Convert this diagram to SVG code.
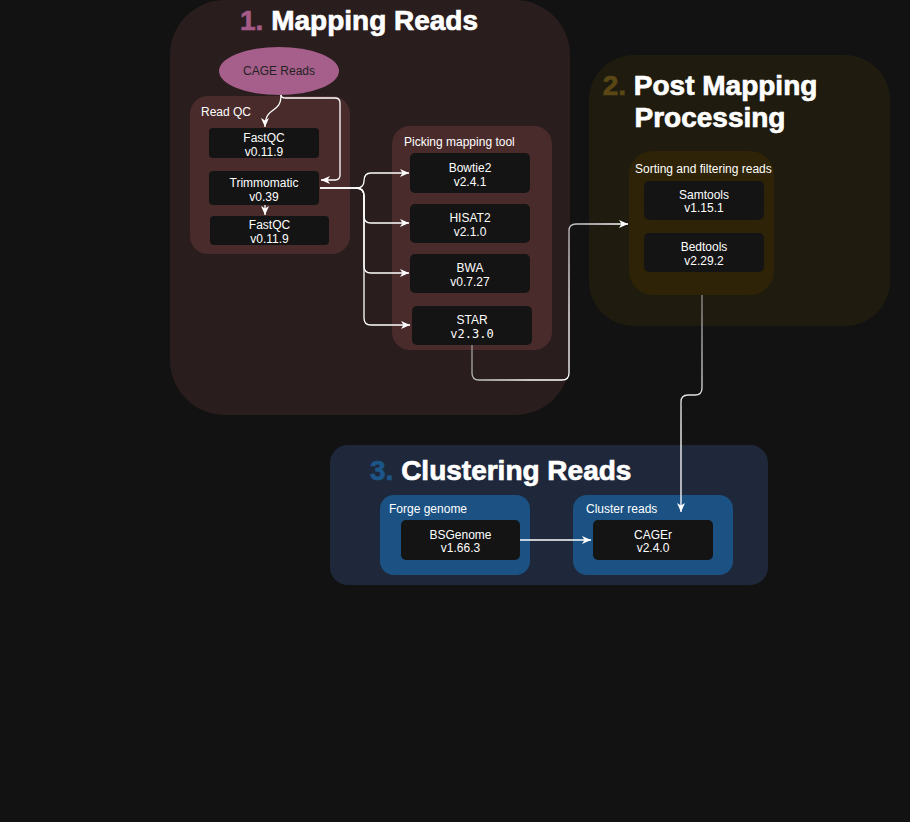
<svg xmlns="http://www.w3.org/2000/svg" width="910" height="822" viewBox="0 0 910 822">
<style>
.t{font-family:"Liberation Sans",Arial,sans-serif;font-size:12px;fill:#ffffff}
.c{text-anchor:middle}
.h{font-family:"Liberation Sans",Arial,sans-serif;font-size:28px;font-weight:bold;fill:#ffffff;stroke:#ffffff;stroke-width:0.7}
.n{fill:#141414}
.mono{font-family:"DejaVu Sans Mono","Liberation Mono",monospace;font-size:12px}
.ln{fill:none;stroke:#ffffff;stroke-width:1.3}
</style>
<defs>
<marker id="ah" markerUnits="userSpaceOnUse" markerWidth="10" markerHeight="10" refX="9" refY="5" orient="auto">
<path d="M0,1 L9,5 L0,9 L2.5,5 Z" fill="#ffffff"/>
</marker>
<linearGradient id="g1" gradientUnits="userSpaceOnUse" x1="472" y1="345" x2="530" y2="380">
<stop offset="0" stop-color="#9a9a9a"/><stop offset="1" stop-color="#ffffff"/>
</linearGradient>
<linearGradient id="g2" gradientUnits="userSpaceOnUse" x1="0" y1="295" x2="0" y2="430">
<stop offset="0" stop-color="#8a8a8a"/><stop offset="1" stop-color="#ffffff"/>
</linearGradient>
</defs>
<rect x="0" y="0" width="910" height="822" fill="#121212"/>

<g id="group-mapping">
<rect x="170" y="0" width="400" height="415" rx="55" fill="#2a1d1d"/>
<text class="h" x="240" y="30"><tspan style="fill:#a45b88;stroke:#a45b88">1.</tspan> Mapping Reads</text>
</g>
<g id="group-post">
<rect x="589" y="55" width="301" height="271" rx="45" fill="#1f1c0f"/>
<text class="h c" x="710" y="95"><tspan style="fill:#5b4714;stroke:#5b4714">2.</tspan> Post Mapping</text>
<text class="h c" x="710" y="127">Processing</text>
</g>
<g id="group-clustering">
<rect x="330" y="445" width="438" height="140" rx="18" fill="#1f283a"/>
<text class="h" x="370" y="480"><tspan style="fill:#1c5587;stroke:#1c5587">3.</tspan> Clustering Reads</text>
</g>

<g id="readqc">
<rect x="190" y="96" width="160" height="158" rx="18" fill="#4a2b2b"/>
<text class="t" x="201" y="116">Read QC</text>
</g>
<g id="picking">
<rect x="392" y="126" width="160" height="224" rx="18" fill="#4a2b2b"/>
<text class="t" x="404" y="146">Picking mapping tool</text>
</g>
<g id="sorting">
<rect x="629" y="151" width="145" height="144" rx="24" fill="#2e2306"/>
<text class="t" x="635" y="173">Sorting and filtering reads</text>
</g>
<g id="forge">
<rect x="380" y="495" width="150" height="80" rx="14" fill="#1b5283"/>
<text class="t" x="389" y="513">Forge genome</text>
</g>
<g id="cluster">
<rect x="573" y="495" width="160" height="80" rx="14" fill="#1b5283"/>
<text class="t" x="586" y="513">Cluster reads</text>
</g>

<g id="cage-reads">
<ellipse cx="279" cy="71" rx="60" ry="24" fill="#a65e8a"/>
<text class="t c" x="279" y="75" style="fill:#222222">CAGE Reads</text>
</g>
<g id="fastqc1">
<rect class="n" x="209" y="128" width="110" height="30" rx="4"/>
<text class="t c" x="264" y="142">FastQC</text>
<text class="t c" x="264" y="156">v0.11.9</text>
</g>
<g id="trimmomatic">
<rect class="n" x="209" y="171" width="110" height="34" rx="4"/>
<text class="t c" x="264" y="187">Trimmomatic</text>
<text class="t c" x="264" y="201">v0.39</text>
</g>
<g id="fastqc2">
<rect class="n" x="210" y="216" width="119" height="29" rx="4"/>
<text class="t c" x="269.5" y="229">FastQC</text>
<text class="t c" x="269.5" y="243">v0.11.9</text>
</g>
<g id="bowtie2">
<rect class="n" x="410" y="153" width="120" height="40" rx="5"/>
<text class="t c" x="470" y="172">Bowtie2</text>
<text class="t c" x="470" y="186">v2.4.1</text>
</g>
<g id="hisat2">
<rect class="n" x="410" y="204" width="120" height="39" rx="5"/>
<text class="t c" x="470" y="222">HISAT2</text>
<text class="t c" x="470" y="236">v2.1.0</text>
</g>
<g id="bwa">
<rect class="n" x="410" y="254" width="120" height="39" rx="5"/>
<text class="t c" x="470" y="272">BWA</text>
<text class="t c" x="470" y="286">v0.7.27</text>
</g>
<g id="star">
<rect class="n" x="412" y="306" width="120" height="39" rx="5"/>
<text class="t c" x="472" y="324">STAR</text>
<text class="t c mono" x="472" y="338">v2.3.0</text>
</g>
<g id="samtools">
<rect class="n" x="644" y="181" width="120" height="39" rx="5"/>
<text class="t c" x="704" y="199">Samtools</text>
<text class="t c" x="704" y="212">v1.15.1</text>
</g>
<g id="bedtools">
<rect class="n" x="644" y="233" width="120" height="39" rx="5"/>
<text class="t c" x="704" y="251">Bedtools</text>
<text class="t c" x="704" y="265">v2.29.2</text>
</g>
<g id="bsgenome">
<rect class="n" x="401" y="520" width="119" height="40" rx="5"/>
<text class="t c" x="460.5" y="539">BSGenome</text>
<text class="t c" x="460.5" y="552">v1.66.3</text>
</g>
<g id="cager">
<rect class="n" x="593" y="520" width="120" height="40" rx="5"/>
<text class="t c" x="653" y="539">CAGEr</text>
<text class="t c" x="653" y="552">v2.4.0</text>
</g>

<g id="connectors">
<path class="ln" d="M281 95 C281 115 265 105 265 127" marker-end="url(#ah)"/>
<path class="ln" d="M281 95 Q281 98 286 98 L335 98 Q340 98 340 103 L340 175 Q340 180 335 180 L321 180" marker-end="url(#ah)"/>
<path class="ln" d="M265 205 L265 215" marker-end="url(#ah)"/>
<path class="ln" d="M320 188 L356 188 Q364 188 364 181 Q364 173 371 173 L409 173" marker-end="url(#ah)"/>
<path class="ln" d="M320 188 L356 188 Q364 188 364 196 L364 216 Q364 223 371 223 L409 223" marker-end="url(#ah)"/>
<path class="ln" d="M356 188 Q364 188 364 196 L364 266 Q364 273 371 273 L409 273" marker-end="url(#ah)"/>
<path class="ln" d="M356 188 Q364 188 364 196 L364 318 Q364 325 371 325 L410 325" marker-end="url(#ah)"/>
<path class="ln" style="stroke:url(#g1)" d="M472 345 L472 373 Q472 380 479 380 L562 380 Q569 380 569 373 L569 231 Q569 224 576 224 L628 224" marker-end="url(#ah)"/>
<path class="ln" style="stroke:url(#g2)" d="M702 295 L702 388 Q702 395 695 395 L688 395 Q681 395 681 402 L681 512" marker-end="url(#ah)"/>
<path class="ln" d="M520 540 L591 540" marker-end="url(#ah)"/>
</g>
</svg>
